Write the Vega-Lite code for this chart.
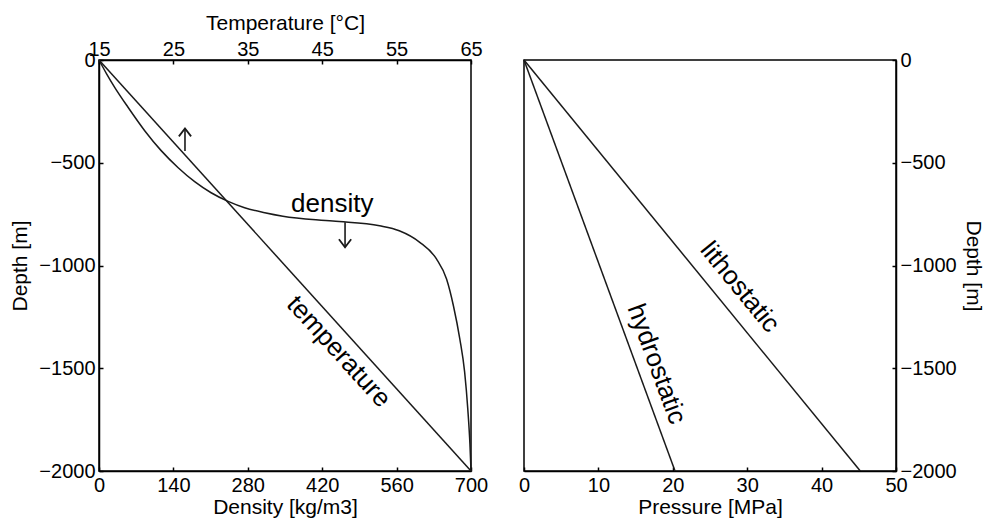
{
  "$schema": "https://vega.github.io/schema/vega-lite/v6.json",
  "padding": {"left": 9, "top": 11, "right": 4, "bottom": 0},
  "background": "white",
  "config": {
    "font": "Liberation Sans",
    "view": {"stroke": "black", "strokeWidth": 1.5},
    "concat": {"spacing": 53},
    "axis": {
      "grid": false,
      "labelFont": "Liberation Sans",
      "titleFont": "Liberation Sans",
      "labelFontSize": 20,
      "titleFontSize": 21,
      "titleFontWeight": "normal",
      "labelColor": "black",
      "titleColor": "black",
      "domainColor": "black",
      "tickColor": "black",
      "domainWidth": 1.5,
      "tickWidth": 1.5,
      "tickSize": -4,
      "labelPadding": 8,
      "labelFlush": false,
      "labelOverlap": false,
      "titlePadding": 4
    },
    "axisTop": {"labelPadding": 4.4, "titlePadding": 6.5},
    "axisBottom": {"titlePadding": 1.5},
    "axisLeft": {"titlePadding": 8},
    "axisRight": {"titlePadding": 6}
  },
  "datasets": {
    "density": [
      {"density": 0, "depth": 0},
      {"density": 14, "depth": -66},
      {"density": 29.5, "depth": -133},
      {"density": 54.6, "depth": -230},
      {"density": 86, "depth": -344},
      {"density": 117, "depth": -441},
      {"density": 149, "depth": -524},
      {"density": 180, "depth": -592},
      {"density": 211, "depth": -646},
      {"density": 243, "depth": -688},
      {"density": 274, "depth": -719},
      {"density": 312, "depth": -743},
      {"density": 346, "depth": -760},
      {"density": 440, "depth": -784},
      {"density": 528, "depth": -807},
      {"density": 565, "depth": -831},
      {"density": 603, "depth": -886},
      {"density": 635, "depth": -968},
      {"density": 654, "depth": -1066},
      {"density": 667, "depth": -1197},
      {"density": 679, "depth": -1358},
      {"density": 688, "depth": -1518},
      {"density": 694, "depth": -1700},
      {"density": 698, "depth": -1870},
      {"density": 700, "depth": -2000}
    ],
    "temperature": [
      {"temperature": 15, "depth": 0},
      {"temperature": 65, "depth": -2000}
    ],
    "arrows": [
      {"dir": "up", "density": 161.8, "tip": -333, "tail": -443},
      {"dir": "down", "density": 463, "tip": -911, "tail": -790}
    ],
    "leftLabels": [
      {"label": "density", "density": 439, "depth": -741},
      {"label": "temperature", "density": 451, "depth": -1419}
    ],
    "pressure": [
      {"kind": "hydrostatic", "pressure": 0, "depth": 0},
      {"kind": "hydrostatic", "pressure": 20.3, "depth": -2000},
      {"kind": "lithostatic", "pressure": 0, "depth": 0},
      {"kind": "lithostatic", "pressure": 45.2, "depth": -2000}
    ],
    "rightLabels": [
      {"label": "hydrostatic", "pressure": 17.8, "depth": -1479},
      {"label": "lithostatic", "pressure": 29.0, "depth": -1105}
    ]
  },
  "bounds": "flush",
  "hconcat": [
    {
      "width": 372,
      "height": 411,
      "layer": [
        {
          "layer": [
            {
              "data": {"name": "density"},
              "mark": {"type": "line", "interpolate": "monotone", "color": "#1a1a1a", "strokeWidth": 1.5},
              "encoding": {
                "x": {"field": "density", "type": "quantitative", "title": "Density [kg/m3]",
                  "scale": {"domain": [0, 700], "nice": false, "zero": false},
                  "axis": {"orient": "bottom", "values": [0, 140, 280, 420, 560, 700]}},
                "y": {"field": "depth", "type": "quantitative", "title": "Depth [m]",
                  "scale": {"domain": [-2000, 0], "nice": false},
                  "axis": {"orient": "left", "values": [0, -500, -1000, -1500, -2000], "format": "d"}}
              }
            },
            {
              "data": {"name": "leftLabels"},
              "transform": [{"filter": "datum.label === 'density'"}],
              "mark": {"type": "text", "fontSize": 26, "font": "Liberation Sans", "color": "black", "align": "center", "baseline": "alphabetic"},
              "encoding": {
                "x": {"field": "density", "type": "quantitative", "title": "Density [kg/m3]"},
                "y": {"field": "depth", "type": "quantitative", "title": "Depth [m]"},
                "text": {"field": "label"}
              }
            },
            {
              "data": {"name": "leftLabels"},
              "transform": [{"filter": "datum.label === 'temperature'"}],
              "mark": {"type": "text", "fontSize": 26, "font": "Liberation Sans", "color": "black", "align": "center", "baseline": "middle", "angle": 47.7},
              "encoding": {
                "x": {"field": "density", "type": "quantitative", "title": "Density [kg/m3]"},
                "y": {"field": "depth", "type": "quantitative", "title": "Depth [m]"},
                "text": {"field": "label"}
              }
            },
            {
              "data": {"name": "arrows"},
              "mark": {"type": "rule", "color": "#1a1a1a", "strokeWidth": 1.6},
              "encoding": {
                "x": {"field": "density", "type": "quantitative", "title": "Density [kg/m3]"},
                "y": {"field": "tail", "type": "quantitative", "title": "Depth [m]"},
                "y2": {"field": "tip"}
              }
            },
            {
              "data": {"name": "arrows"},
              "mark": {"type": "point", "filled": false, "color": "#1a1a1a", "strokeWidth": 1.8, "size": 150, "opacity": 1},
              "encoding": {
                "x": {"field": "density", "type": "quantitative", "title": "Density [kg/m3]"},
                "y": {"field": "tip", "type": "quantitative", "title": "Depth [m]"},
                "shape": {"field": "dir", "type": "nominal", "legend": null,
                  "scale": {"domain": ["up", "down"], "range": ["M-1,1.3L0,0L1,1.3", "M-1,-1.3L0,0L1,-1.3"]}}
              }
            }
          ]
        },
        {
          "data": {"name": "temperature"},
          "mark": {"type": "line", "color": "#1a1a1a", "strokeWidth": 1.5},
          "encoding": {
            "x": {"field": "temperature", "type": "quantitative", "title": "Temperature [°C]",
              "scale": {"domain": [15, 65], "nice": false, "zero": false},
              "axis": {"orient": "top", "values": [15, 25, 35, 45, 55, 65]}},
            "y": {"field": "depth", "type": "quantitative", "title": "Depth [m]"}
          }
        }
      ],
      "resolve": {"scale": {"x": "independent"}, "axis": {"x": "independent"}}
    },
    {
      "width": 372,
      "height": 411,
      "layer": [
        {
          "data": {"name": "pressure"},
          "mark": {"type": "line", "color": "#1a1a1a", "strokeWidth": 1.5},
          "encoding": {
            "x": {"field": "pressure", "type": "quantitative", "title": "Pressure [MPa]",
              "scale": {"domain": [0, 50], "nice": false},
              "axis": {"orient": "bottom", "values": [0, 10, 20, 30, 40, 50]}},
            "y": {"field": "depth", "type": "quantitative", "title": "Depth [m]",
              "scale": {"domain": [-2000, 0], "nice": false},
              "axis": {"orient": "right", "values": [0, -500, -1000, -1500, -2000], "format": "d"}},
            "detail": {"field": "kind"}
          }
        },
        {
          "data": {"name": "rightLabels"},
          "transform": [{"filter": "datum.label === 'hydrostatic'"}],
          "mark": {"type": "text", "fontSize": 26, "font": "Liberation Sans", "color": "black", "align": "center", "baseline": "middle", "angle": 69.8},
          "encoding": {
            "x": {"field": "pressure", "type": "quantitative", "title": "Pressure [MPa]"},
            "y": {"field": "depth", "type": "quantitative", "title": "Depth [m]"},
            "text": {"field": "label"}
          }
        },
        {
          "data": {"name": "rightLabels"},
          "transform": [{"filter": "datum.label === 'lithostatic'"}],
          "mark": {"type": "text", "fontSize": 26, "font": "Liberation Sans", "color": "black", "align": "center", "baseline": "middle", "angle": 50.6},
          "encoding": {
            "x": {"field": "pressure", "type": "quantitative", "title": "Pressure [MPa]"},
            "y": {"field": "depth", "type": "quantitative", "title": "Depth [m]"},
            "text": {"field": "label"}
          }
        }
      ]
    }
  ]
}
